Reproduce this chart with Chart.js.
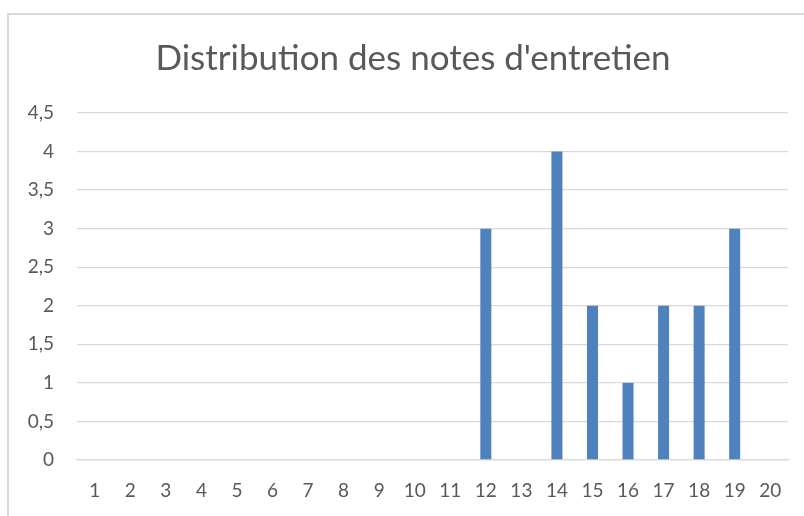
<!DOCTYPE html>
<html>
<head>
<meta charset="utf-8">
<script src="https://cdn.jsdelivr.net/npm/chart.js@4"></script>
<style>
    html, body { margin: 0; padding: 0; background: #fff; }
    .wrap { position: relative; width: 804px; height: 516px; overflow: hidden; }
    .frame { position: absolute; left: 7px; top: 13px; width: 820px; height: 540px; border: 2px solid #D9D9D9; box-sizing: border-box; }
    canvas { position: absolute; left: 0; top: 0; }
</style>
</head>
<body>
<div class="wrap">
    <div class="frame"></div>
    <canvas id="chart" width="804" height="516"></canvas>
</div>
<script>
    // Notes (1 à 20) et nombre d'entretiens par note
    var notes = ["1", "2", "3", "4", "5", "6", "7", "8", "9", "10",
                 "11", "12", "13", "14", "15", "16", "17", "18", "19", "20"];
    var counts = [0, 0, 0, 0, 0, 0, 0, 0, 0, 0,
                  0, 3, 0, 4, 2, 1, 2, 2, 3, 0];
    var titleText = "Distribution des notes d'entretien";
    var yMin = 0, yMax = 4.5, yStep = 0.5;

    var grey = "#595959";
    var gridGrey = "#D9D9D9";

    Chart.defaults.font.family = "Lato, 'Open Sans', sans-serif";
    Chart.defaults.color = grey;

    // the frame runs past the right edge, so centre the title on the frame, not on the canvas
    var titleShift = {
        id: 'titleShift',
        afterLayout: function(chart) {
            chart.titleBlock.left += 19;
            chart.titleBlock.right += 19;
        }
    };

    new Chart(document.getElementById("chart"), {
        type: 'bar',
        data: {
            labels: notes,
            datasets: [{
                data: counts,
                backgroundColor: "#4F81BD",
                borderWidth: 0,
                categoryPercentage: 1,
                barPercentage: 0.31,
            }],
        },
        options: {
            responsive: false,
            animation: false,
            layout: { padding: { top: 38, right: 16, left: 0, bottom: 0 } },
            plugins: {
                legend: { display: false },
                tooltip: { enabled: false },
                title: {
                    display: true,
                    text: titleText,
                    color: grey,
                    font: { size: 35, weight: 'normal' },
                    padding: { top: 0, bottom: 33 },
                },
            },
            scales: {
                x: {
                    grid: { display: false, drawTicks: false },
                    border: { display: true, color: gridGrey, width: 1.3 },
                    ticks: { font: { size: 19 }, color: grey, padding: 19, maxRotation: 0, autoSkip: false },
                    afterFit: function(scale) { scale.height = 56; },
                },
                y: {
                    min: yMin,
                    max: yMax,
                    grid: { color: gridGrey, lineWidth: 1.3, drawTicks: false },
                    border: { display: false },
                    ticks: {
                        stepSize: yStep,
                        font: { size: 19 },
                        color: grey,
                        padding: 23,
                        callback: function(v) { return String(v).replace(".", ","); },
                    },
                    afterFit: function(scale) { scale.width = 77; },
                },
            },
        },
        plugins: [titleShift],
    });
</script>
</body>
</html>
